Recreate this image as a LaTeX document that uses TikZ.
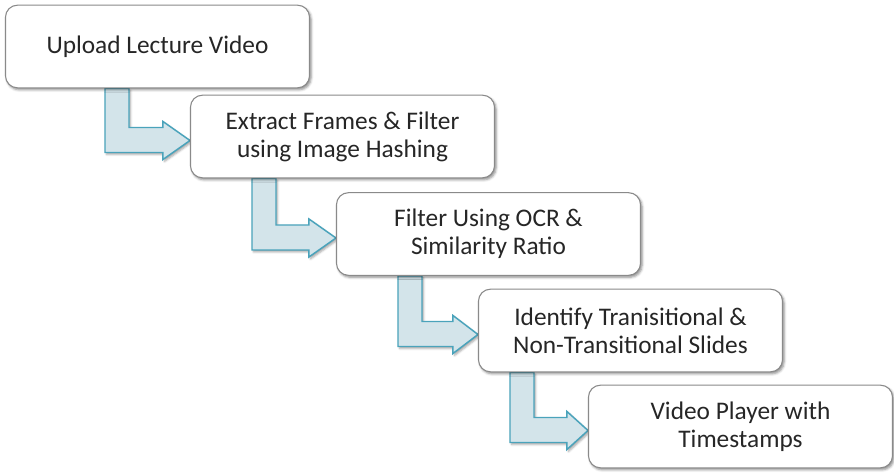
\documentclass[tikz,border=0pt]{standalone}
\usepackage{fontspec}
\setmainfont{Carlito}
\usetikzlibrary{calc,shadows,shadows.blur}
\pgfdeclarelayer{background}
\pgfsetlayers{background,main}

\definecolor{boxline}{HTML}{8A8A8A}
\definecolor{arrowfill}{HTML}{D3E4EA}
\definecolor{arrowline}{HTML}{4AA3BB}
\definecolor{textcol}{HTML}{262626}

\tikzset{
  stepbox/.style={draw=boxline, line width=0.8pt, fill=white,
    rounded corners=9pt, minimum width=228pt, minimum height=62pt,
    align=center, text=textcol, font=\fontsize{19}{21}\selectfont,
    blur shadow={shadow xshift=1.2pt, shadow yshift=-1.5pt,
      shadow blur radius=1.8pt, shadow opacity=45}},
  blockarrow/.style={draw=arrowline, line width=1.1pt, fill=arrowfill,
    line join=miter,
    blur shadow={shadow xshift=1.2pt, shadow yshift=-1.5pt,
      shadow blur radius=1.5pt, shadow opacity=35}}
}

% bent block arrow: #1 source node, #2 target node, #3 left x of the shaft,
% #4 length of the head
\newcommand{\bentarrow}[4]{%
  \coordinate (t) at ($(#2.west)+(0,4)$);
  \coordinate (v) at (#3,0 |- #1.south);
  \coordinate (c) at (v |- t);
  \draw[blockarrow] (v) -- ++(24,0) -- ($(c)+(24,-13)$)
    -- ($(t)+(-#4,-13)$) -- ($(t)+(-#4,-19)$) -- (t)
    -- ($(t)+(-#4,19)$) -- ($(t)+(-#4,12)$) -- ($(c)+(0,12)$) -- cycle;
}

\begin{document}
\begin{tikzpicture}[x=0.75pt, y=-0.75pt]
  \useasboundingbox (0,0) rectangle (894,473);

  \node[stepbox] (b1) at (157.5,46.5) {Upload Lecture Video};
  \node[stepbox] (b2) at (342.5,136.5) {Extract Frames \& Filter\\using Image Hashing};
  \node[stepbox] (b3) at (488.5,234) {Filter Using OCR \&\\Similarity Ratio};
  \node[stepbox] (b4) at (630.5,330.5) {Identify Tranisitional \&\\Non-Transitional Slides};
  \node[stepbox] (b5) at (740.5,426.5) {Video Player with\\Timestamps};

  \begin{pgfonlayer}{background}
    \bentarrow{b1}{b2}{105}{27}
    \bentarrow{b2}{b3}{252}{27}
    \bentarrow{b3}{b4}{398}{25}
    \bentarrow{b4}{b5}{510}{21}
  \end{pgfonlayer}
\end{tikzpicture}
\end{document}
